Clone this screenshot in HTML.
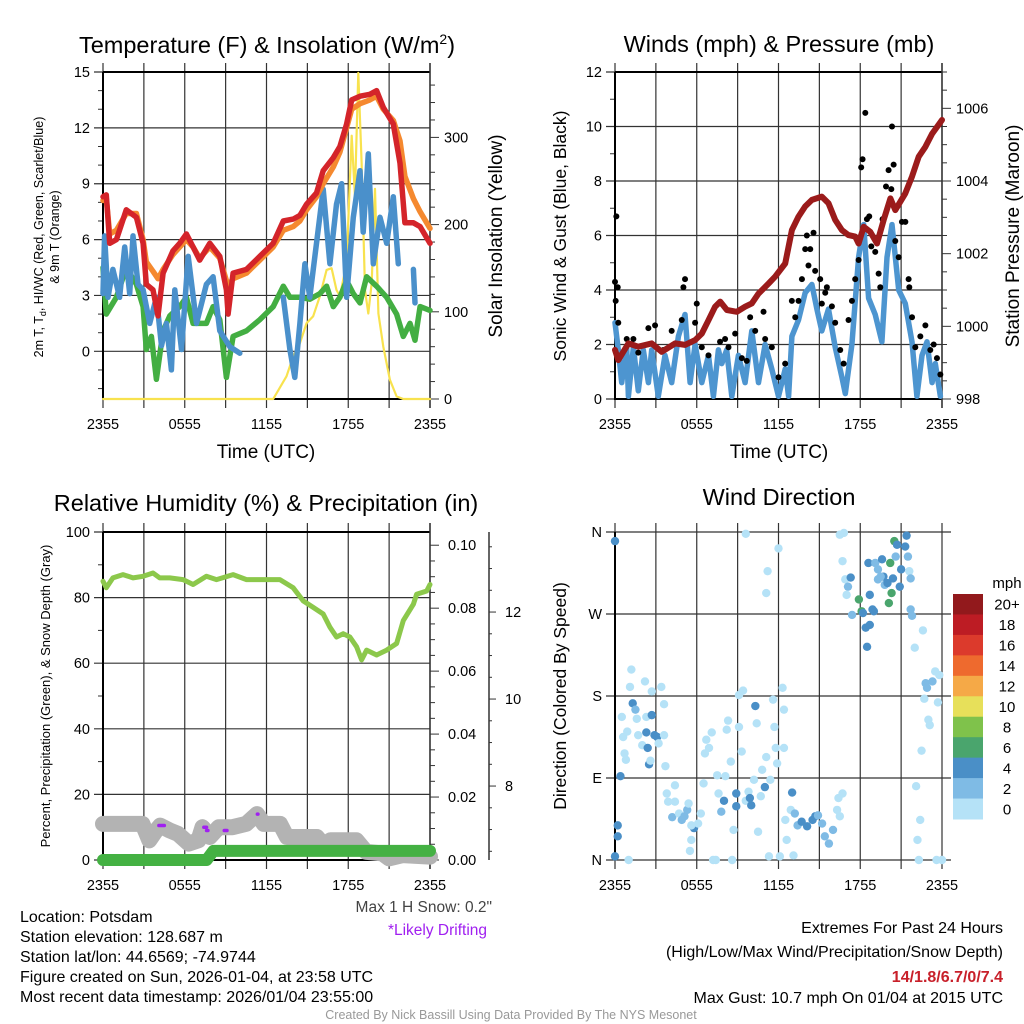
<!DOCTYPE html>
<html><head><meta charset="utf-8"><title>Mesonet Station Chart</title>
<style>
html,body{margin:0;padding:0;background:#fff;}
svg{display:block;font-family:"Liberation Sans",Arial,sans-serif;}
</style></head>
<body>
<svg id="chart" xmlns="http://www.w3.org/2000/svg" width="1024" height="1024" viewBox="0 0 1024 1024">
<rect x="0" y="0" width="1024" height="1024" fill="#fff"/>
<text x="267" y="53" font-size="23.5" text-anchor="middle">Temperature (F) &amp; Insolation (W/m<tspan font-size="14" dy="-9">2</tspan><tspan dy="9">)</tspan></text>
<text x="779" y="52" font-size="23.5" text-anchor="middle">Winds (mph) &amp; Pressure (mb)</text>
<text x="266" y="511" font-size="23.5" text-anchor="middle">Relative Humidity (%) &amp; Precipitation (in)</text>
<text x="779" y="505" font-size="23.5" text-anchor="middle">Wind Direction</text>

<text x="266" y="458" font-size="19" text-anchor="middle">Time (UTC)</text>
<text x="779" y="458" font-size="19" text-anchor="middle">Time (UTC)</text>

<text transform="translate(43,237) rotate(-90)" font-size="12.5" text-anchor="middle">2m T, T<tspan font-size="9" dy="3">d</tspan><tspan dy="-3">, HI/WC (Red, Green, Scarlet/Blue)</tspan></text>
<text transform="translate(59,237) rotate(-90)" font-size="12.5" text-anchor="middle">&amp; 9m T (Orange)</text>
<text transform="translate(502,236) rotate(-90)" font-size="19" text-anchor="middle">Solar Insolation (Yellow)</text>
<text transform="translate(566,236) rotate(-90)" font-size="17.5" text-anchor="middle">Sonic Wind &amp; Gust (Blue, Black)</text>
<text transform="translate(1019,236) rotate(-90)" font-size="19" text-anchor="middle">Station Pressure (Maroon)</text>
<text transform="translate(50,696) rotate(-90)" font-size="13" text-anchor="middle">Percent, Precipitation (Green), &amp; Snow Depth (Gray)</text>
<text transform="translate(566,696) rotate(-90)" font-size="17.5" text-anchor="middle">Direction (Colored By Speed)</text>

<g id="panels"></g>

<text x="1007" y="588" font-size="15" text-anchor="middle">mph</text>

<text x="492" y="912" font-size="15.5" fill="#444" text-anchor="end">Max 1 H Snow: 0.2"</text>
<text x="487" y="935" font-size="15.5" fill="#a020f0" text-anchor="end">*Likely Drifting</text>

<g font-size="16">
<text x="20" y="922">Location: Potsdam</text>
<text x="20" y="942">Station elevation: 128.687 m</text>
<text x="20" y="962">Station lat/lon: 44.6569; -74.9744</text>
<text x="20" y="982">Figure created on Sun, 2026-01-04, at 23:58 UTC</text>
<text x="20" y="1002">Most recent data timestamp: 2026/01/04 23:55:00</text>
</g>
<g font-size="16" text-anchor="end">
<text x="1003" y="933">Extremes For Past 24 Hours</text>
<text x="1003" y="957">(High/Low/Max Wind/Precipitation/Snow Depth)</text>
<text x="1003" y="982" fill="#c8202a" font-weight="bold">14/1.8/6.7/0/7.4</text>
<text x="1003" y="1003">Max Gust: 10.7 mph On 01/04 at 2015 UTC</text>
</g>
<text x="511" y="1019" font-size="12.5" fill="#999" text-anchor="middle">Created By Nick Bassill Using Data Provided By The NYS Mesonet</text>
</svg>

<script>
// ---------- DATA (time in hours since 2355 UTC) ----------
const xTickLabels = ["2355","0555","1155","1755","2355"];
const tempTicks = [0,3,6,9,12,15];
const solarTicks = [0,100,200,300];
const windTicks = [0,2,4,6,8,10,12];
const presTicks = [998,1000,1002,1004,1006];
const rhTicks = [0,20,40,60,80,100];
const precipTicks = ["0.00","0.02","0.04","0.06","0.08","0.10"];
const snowTicks = [8,10,12];
const dirTickLabels = ["N","E","S","W","N"];
const speedBins = ["0","2","4","6","8","10","12","14","16","18","20+"];
const speedColors = ["#b5e2f7","#7fbbe5","#4a8fc7","#4aa56d","#7fc24b","#e7e05a","#f5a947","#ee6a2e","#dc3a2c","#bd1c24","#92191c"];

const tempT = [0,0.24,0.49,0.98,1.71,2.45,2.94,3.18,3.67,4.04,4.41,5.14,5.63,6.12,6.61,7.10,7.84,8.57,9.06,9.18,9.55,10.53,11.51,12.49,13.23,13.96,14.45,14.94,15.67,16.16,16.90,17.39,17.88,18.25,18.86,19.59,20.08,20.57,21.31,21.80,22.16,22.78,23.27,24];
const tempV = [8.3,8.4,5.8,6.0,7.6,7.2,5.8,3.6,3.3,1.9,4.2,5.4,5.8,6.3,5.6,4.9,5.8,5.1,3.3,2.0,4.2,4.4,5.1,5.8,7.0,7.1,7.3,7.9,8.5,9.7,10.4,11.0,12.2,13.5,13.7,13.8,14.0,13.1,12.2,10.1,6.9,6.9,6.7,5.8];
const temp9mV = [8.1,8.2,6.3,6.5,7.4,7.4,6.0,4.8,4.3,3.9,4.4,5.2,5.6,6.0,5.6,5.0,5.6,5.0,3.8,3.5,3.9,4.2,4.9,5.6,6.5,6.7,7.0,7.6,8.3,9.0,9.9,10.7,12.0,13.0,13.3,13.5,13.7,13.0,12.4,11.3,9.4,8.2,7.5,6.6];
const dewT = [0,0.24,0.98,1.71,2.45,2.94,3.18,3.55,3.92,4.41,4.90,5.63,6.12,6.61,7.59,8.08,8.57,9.06,9.55,10.53,11.51,12.49,13.23,13.72,14.45,15.18,15.92,16.41,16.90,17.39,17.88,18.37,18.86,19.35,20.08,20.82,21.55,22.04,22.53,22.90,23.27,24];
const dewV = [4.5,2.0,2.9,4.5,3.6,2.4,0.1,0.8,-1.5,1.1,1.9,2.4,2.9,1.5,1.5,2.4,1.7,-1.4,0.8,1.1,1.7,2.4,3.5,2.9,2.9,2.8,3.1,3.5,2.4,2.9,3.8,3.1,2.6,4.0,3.5,2.9,2.0,0.8,1.5,0.6,2.4,2.2];
const chillT = [0,0.12,0.37,0.73,1.22,1.59,1.96,2.2,2.57,2.94,3.43,3.92,4.29,4.65,5.02,5.27,5.76,6.25,6.86,7.59,8.08,8.57,9.31,10.04,null,13.23,13.72,14.08,14.45,14.82,15.18,15.67,16.16,16.65,17.14,17.51,17.88,18.37,18.86,19.10,19.47,19.84,20.33,20.82,21.31,21.67,null,22.78,22.90];
const chillV = [3.1,6.2,2.9,4.4,2.9,5.6,3.1,6.2,3.6,3.3,1.5,2.9,0.3,1.5,-1.0,3.3,0.1,5.1,1.5,3.6,4.0,1.1,0.25,-0.1,null,2.9,0.1,-1.4,1.5,4.7,2.9,5.8,8.7,4.7,7.9,9.0,2.9,7.2,9.7,6.4,10.6,4.7,7.2,5.8,8.3,4.7,null,4.4,2.6];
const solarT = [0,12.49,13.47,13.96,14.45,14.94,15.43,15.92,16.41,16.78,17.14,17.39,17.88,18.25,18.49,18.74,18.98,19.23,19.47,19.72,19.96,20.21,20.57,21.06,21.55,22.04,24];
const solarV = [0,0,26,49,64,87,95,118,148,150,125,118,156,302,233,374,271,125,98,133,241,98,60,22,3,0,0];

const presT = [0,0.24,0.98,1.71,2.69,3.43,4.41,5.14,5.88,6.37,6.86,7.35,7.72,8.21,8.94,9.55,10.04,10.53,11.27,11.76,12.49,12.98,13.47,13.96,14.45,15.18,15.67,16.16,16.65,17.14,17.63,17.88,18.25,18.74,19.23,19.72,20.21,20.57,21.31,21.80,22.29,22.78,23.27,24];
const presV = [999.35,999.07,999.53,999.44,999.53,999.3,999.53,999.49,999.62,999.8,1000.17,1000.54,1000.68,1000.45,1000.4,1000.54,1000.63,1000.9,1001.18,1001.37,1001.73,1002.65,1003.02,1003.3,1003.48,1003.57,1003.39,1002.93,1002.65,1002.51,1002.47,1002.28,1002.74,1002.6,1002.28,1002.93,1003.52,1003.2,1003.66,1004.12,1004.67,1004.94,1005.3,1005.68];
const windT = [0,0.24,0.49,0.86,0.98,1.35,1.71,2.08,2.45,2.69,3.18,3.67,4.16,4.65,5.14,5.51,5.88,6.37,6.86,7.22,7.59,7.84,8.2,8.57,9.06,9.55,10.04,10.53,11.02,11.51,12.0,12.49,12.74,12.98,13.47,13.96,14.45,14.82,15.18,15.67,16.16,16.65,16.9,17.39,17.88,18.25,18.61,19.1,19.59,19.96,20.33,20.82,21.31,21.8,22.16,22.53,22.9,23.27,23.51,23.88];
const windV = [2.8,1.8,0.6,1.9,0.1,1.9,0.3,1.8,0.6,1.8,0.1,1.6,0.6,2.3,3.1,0.6,2.0,0.6,1.6,0.1,1.8,1.3,1.8,0.1,1.6,0.6,2.5,0.6,2.0,1.1,0.1,1.1,0.1,2.3,2.9,3.9,4.2,3.3,2.5,3.3,1.9,0.8,0.2,2.0,5.2,6.4,3.7,3.1,2.1,5.2,6.4,4.0,3.5,2.1,0.1,1.6,2.1,0.6,1.3,0.1];
const gustT = [0,0.1,0.2,0.05,0.24,0.86,1.35,1.71,2.45,2.94,3.55,4.16,4.90,5.02,5.14,6.0,5.88,6.37,6.86,7.71,8.08,8.33,8.82,9.31,9.67,9.92,10.29,10.9,11.02,11.51,12.0,12.49,12.98,13.23,13.47,13.96,14.08,14.33,14.57,14.2,13.72,14.69,15.06,15.18,15.43,15.55,15.92,16.16,16.53,16.78,17.14,17.39,17.63,17.88,18.07,18.17,18.37,18.49,18.66,18.81,19.1,19.35,19.47,19.64,19.89,20.08,20.28,20.33,20.45,20.57,20.82,21.06,21.31,21.55,21.6,21.8,22.04,22.41,22.78,23.14,23.39,23.63,23.88];
const gustV = [4.3,6.7,4.1,3.6,2.8,2.2,2.2,1.7,2.6,2.7,1.8,2.5,2.9,4.1,4.4,3.5,2.8,1.9,1.6,2.1,2.2,1.9,2.4,1.5,1.4,3.0,2.5,3.2,2.2,1.9,0.8,1.3,3.6,3.0,3.6,5.5,6.0,5.5,6.1,4.9,4.4,4.7,4.4,3.5,3.9,4.1,3.4,2.8,1.8,1.3,2.9,3.6,4.4,5.1,8.5,8.8,10.5,6.6,6.7,5.6,5.4,4.6,4.1,6.6,7.8,8.4,7.7,10.0,8.6,5.8,5.2,6.5,6.5,4.4,4.1,3.0,1.9,2.3,2.7,1.8,2.0,1.5,0.9];

const rhT = [0,0.24,0.73,1.47,2.2,2.94,3.67,4.16,4.9,5.88,6.61,7.59,8.33,9.55,10.53,12.0,12.98,13.96,14.69,15.43,16.16,16.65,17.14,17.63,18.12,18.61,18.98,19.35,20.08,20.82,21.55,22.04,22.78,23.02,23.76,24];
const rhV = [85,83,86,87,86,86.5,87.5,86,86,85.5,84,86.5,85.5,87,85.5,85.5,85.5,83,79,77,75,71,68,69,68,65,61,64,62.5,64,66,73,78,81,82,84];
const snowT = [0,1.5,2.9,3.4,3.9,4.2,4.9,5.5,6.3,7.0,7.3,7.84,8.5,9.5,10.5,11.3,11.8,13.0,13.5,15.7,16.2,16.7,18.6,19.3,20.5,21.0,22.0,24];
const snowV = [11,11,11,6,9,10.5,9,8,5,6,10,7,10,10,11,14,11,11,7,7,4.5,6,6,2.5,2,0.5,1.5,1];
const driftStart = [4.1,7.4,7.6,8.9,11.33];
const driftEnd = [4.5,7.6,7.7,9.1,11.37];
const driftV = [10.5,10,9,9,14];
const precipT = [0,7.6,8.1,24];
const precipV = [0,0,0.0029,0.0029];

const dirT = [0.0,0.0,0.2,0.2,0.4,1.0,0.5,0.6,0.9,0.7,0.8,1.2,1.1,1.3,1.5,1.6,1.7,2.0,2.2,2.3,2.3,2.4,2.5,2.6,2.7,2.7,2.9,3.1,3.2,3.4,3.6,3.6,3.7,3.8,3.9,4.2,4.4,4.4,4.7,4.9,5.1,5.3,5.4,5.8,5.6,5.6,5.5,6.1,6.3,6.5,6.6,6.7,6.9,7.1,7.2,7.4,7.5,7.6,7.8,8.0,8.1,8.2,8.3,8.5,8.6,8.7,8.9,8.9,9.1,9.1,9.3,9.4,9.6,9.8,9.9,10.0,10.2,10.3,10.4,10.5,10.7,10.8,11.0,11.1,11.1,11.2,11.3,11.4,11.6,11.7,11.8,11.9,9.6,12.0,12.1,12.3,12.4,12.4,12.5,12.6,12.9,13.0,13.1,13.2,13.4,13.7,14.1,14.5,14.7,14.9,15.2,15.4,15.7,16.0,16.3,16.4,16.5,16.7,16.5,16.8,16.7,16.9,17.1,17.3,17.0,17.4,17.9,18.1,18.2,18.4,18.5,18.7,18.7,19.0,18.6,19.1,19.3,19.6,19.7,19.8,20.0,20.1,20.2,20.3,20.4,20.5,20.6,20.7,20.9,21.0,21.3,21.4,21.5,21.6,21.7,21.7,21.8,22.0,22.1,22.3,22.4,22.2,22.5,22.6,22.7,22.8,22.9,23.0,23.1,23.3,23.5,23.7,23.8,23.6,24.0,18.9,19.3,19.5];
const dirV = [350,4,38,26,92,0,157,135,141,117,110,209,190,172,165,155,137,126,196,157,140,123,105,109,185,159,137,135,128,190,171,137,103,73,64,47,82,64,51,44,48,55,62,35,38,22,10,40,51,84,117,132,123,140,0,0,93,73,53,65,92,143,153,108,0,33,59,73,146,181,119,186,65,75,68,60,88,169,150,31,70,99,80,113,293,317,4,88,176,146,123,106,358,342,4,189,165,123,44,22,55,74,5,51,38,42,37,44,48,49,40,26,18,33,55,68,48,73,357,359,328,308,300,310,291,269,286,273,271,255,234,258,291,273,326,326,308,330,311,302,304,282,326,293,309,350,333,346,300,319,344,356,333,317,309,275,268,233,81,0,44,22,120,252,177,194,189,154,148,196,207,173,203,0,0,275,319,311];
const dirSpeed = [5,5,5,5,5,1,1,1,1,1,1,1,1,5,3,1,1,1,1,1,5,5,5,1,1,5,5,5,1,1,1,1,1,1,1,3,1,1,1,3,3,3,1,5,1,1,1,1,1,1,1,1,1,1,1,1,1,1,3,5,1,1,1,1,1,1,5,5,1,1,1,1,1,1,5,5,1,5,1,1,1,1,5,1,1,1,1,1,1,1,1,1,1,1,1,1,1,1,1,1,1,5,1,3,3,5,5,5,5,3,3,3,3,3,1,1,1,1,1,1,1,1,3,5,1,3,7,7,5,5,5,5,5,5,5,3,3,5,5,3,5,7,7,7,5,7,3,5,5,5,5,5,3,1,3,3,3,1,1,1,1,1,1,1,1,3,3,1,1,3,1,1,1,1,1,5,3,3];

// ---------- HELPERS ----------
const NS = "http://www.w3.org/2000/svg";
const root = document.getElementById("panels");
function mk(tag, attrs, parent) {
  const el = document.createElementNS(NS, tag);
  for (const k in attrs) el.setAttribute(k, attrs[k]);
  (parent || root).appendChild(el);
  return el;
}
function scale(d0, d1, r0, r1) { return v => r0 + (v - d0) / (d1 - d0) * (r1 - r0); }
function pathFrom(ts, vs, X, Y) {
  let d = "", pen = false;
  for (let i = 0; i < ts.length; i++) {
    if (ts[i] === null || vs[i] === null) { pen = false; continue; }
    d += (pen ? "L" : "M") + X(ts[i]).toFixed(1) + "," + Y(vs[i]).toFixed(1);
    pen = true;
  }
  return d;
}

function frame(p, name) {
  const g = mk("g", {});
  
  
  for (let h = 0; h <= 24; h += 3) {
    const x = p.X(h);
    const l = mk("line", {x1: x, x2: x, y1: p.y0 - 9, y2: p.y1 + 9, stroke: "#333", "stroke-width": 1.2}, g);
    
    
  }
  xTickLabels.forEach((lab, i) => {
    const t = mk("text", {x: p.X(i * 6), y: p.y1 + 30, "font-size": 14.5, "text-anchor": "middle"}, g);
    t.textContent = lab;
    
    
  });
  return g;
}
function hline(g, p, y, major) {
  const l = mk("line", {x1: p.x0 - (major ? 9 : 5), x2: major ? p.x1 : p.x0, y1: y, y2: y, stroke: "#333", "stroke-width": major ? 1.2 : 1}, g);
  
  
}
function leftLabel(g, p, y, txt) {
  const t = mk("text", {x: p.x0 - 13, y: y + 5, "font-size": 14.5, "text-anchor": "end"}, g);
  t.textContent = txt;
  
  
}
function rightTick(g, x, y, major, txt, off) {
  const l = mk("line", {x1: x, x2: x + (major ? 9 : 5), y1: y, y2: y, stroke: "#333", "stroke-width": 1}, g);
  
  
  if (txt !== undefined) {
    const t = mk("text", {x: x + (off || 14), y: y + 5, "font-size": 14.5}, g);
    t.textContent = txt;
    
    
  }
}
function border(g, p) {
  const r = mk("path", {d: `M${p.x0},${p.y0}H${p.x1}M${p.x0},${p.y0}V${p.y1}H${p.x1}`, fill: "none", stroke: "#000", "stroke-width": 2}, g);
  
  
  const rr = mk("line", {x1: p.x1, x2: p.x1, y1: p.y0 - 9, y2: p.y1 + 9, stroke: "#333", "stroke-width": 1.5}, g);
  
  
}
function series(d, color, w, name) {
  const s = mk("path", {d: d, fill: "none", stroke: color, "stroke-width": w, "stroke-linejoin": "round", "stroke-linecap": "round"});
  
  
  return s;
}

// ---------- PANEL A: Temperature ----------
(function () {
  const p = {x0: 103, x1: 430, y0: 72, y1: 399};
  p.X = scale(0, 24, p.x0, p.x1);
  const Y = scale(-2.56, 15, p.y1, p.y0);
  const YR = scale(0, 375, p.y1, p.y0);
  const g = frame(p, "temperature");
  for (let v = -2; v <= 15; v++) hline(g, p, Y(v), v % 3 === 0);
  tempTicks.forEach(v => leftLabel(g, p, Y(v), String(v)));
  for (let w = 0; w <= 360; w += 20) rightTick(g, p.x1, YR(w), w % 100 === 0, w % 100 === 0 ? String(w) : undefined);
  border(g, p);
  series(pathFrom(solarT, solarV, p.X, YR), "#f8e24e", 2.2, "solar-insolation-line");
  series(pathFrom(dewT, dewV, p.X, Y), "#43ae42", 5.5, "dewpoint-line");
  series(pathFrom(chillT, chillV, p.X, Y), "#4a90cb", 5.5, "wind-chill-line");
  series(pathFrom(tempT, temp9mV, p.X, Y), "#f5892f", 5.5, "temp-9m-line");
  series(pathFrom(tempT, tempV, p.X, Y), "#d4242a", 5.5, "temp-2m-line");
})();

// ---------- PANEL B: Winds & Pressure ----------
(function () {
  const p = {x0: 615, x1: 942, y0: 72, y1: 399};
  p.X = scale(0, 24, p.x0, p.x1);
  const Y = scale(0, 12, p.y1, p.y0);
  const YR = scale(998, 1007.0, p.y1, p.y0);
  const g = frame(p, "winds");
  for (let v = 0; v <= 12; v++) hline(g, p, Y(v), v % 2 === 0);
  windTicks.forEach(v => leftLabel(g, p, Y(v), String(v)));
  for (let m = 998; m <= 1007; m += 0.5) rightTick(g, p.x1, YR(m), m % 2 === 0, presTicks.includes(m) ? String(m) : undefined);
  border(g, p);
  series(pathFrom(windT, windV, p.X, Y), "#4d95d0", 5.5, "sonic-wind-line");
  const gg = mk("g", {});
  
  
  gustT.forEach((t, i) => {
    const c = mk("circle", {cx: p.X(t), cy: Y(gustV[i]), r: 3, fill: "#000"}, gg);
    
    
  });
  series(pathFrom(presT, presV, p.X, YR), "#9b1b1b", 6, "pressure-line");
})();

// ---------- PANEL C: RH & Precip ----------
(function () {
  const p = {x0: 103, x1: 430, y0: 532, y1: 860};
  p.X = scale(0, 24, p.x0, p.x1);
  const Y = scale(0, 100, p.y1, p.y0);
  const YP = scale(0, 0.1042, p.y1, p.y0);
  const YS = scale(6.3, 13.84, p.y1, p.y0);
  const g = frame(p, "humidity");
  for (let v = 0; v <= 100; v += 10) hline(g, p, Y(v), v % 20 === 0);
  rhTicks.forEach(v => leftLabel(g, p, Y(v), String(v)));
  for (let k = 0; k <= 20; k++) {
    const v = k * 0.005;
    rightTick(g, p.x1, YP(v), k % 4 === 0, k % 4 === 0 ? precipTicks[k / 4] : undefined, 18);
  }
  border(g, p);
  const ax = mk("line", {x1: 489, x2: 489, y1: p.y0, y2: p.y1, stroke: "#333", "stroke-width": 1.5}, g);
  
  
  for (let s = 6.5; s <= 13.5; s += 0.5) {
    const major = snowTicks.includes(s);
    const l = mk("line", {x1: 489, x2: major ? 496 : 492, y1: YS(s), y2: YS(s), stroke: "#333", "stroke-width": 1}, g);
    
    
    if (major) {
      const t = mk("text", {x: 505, y: YS(s) + 5, "font-size": 14.5}, g);
      t.textContent = String(s);
      
      
    }
  }
  series(pathFrom(snowT, snowV, p.X, Y), "#b3b3b3", 16, "snow-depth-line");
  driftStart.forEach((t, i) => {
    series(`M${p.X(t)},${Y(driftV[i])}L${p.X(driftEnd[i])},${Y(driftV[i])}`, "#a020f0", 3.5, "drifting-marker");
  });
  series(pathFrom(precipT, precipV, p.X, YP), "#44b143", 12, "precipitation-line");
  series(pathFrom(rhT, rhV, p.X, Y), "#8cc84b", 5, "relative-humidity-line");
})();

// ---------- PANEL D: Wind Direction ----------
(function () {
  const p = {x0: 615, x1: 942, y0: 532, y1: 860};
  p.X = scale(0, 24, p.x0, p.x1);
  const Y = scale(0, 360, p.y1, p.y0);
  const g = frame(p, "wind-direction");
  dirTickLabels.forEach((lab, i) => {
    const y = Y(i * 90);
    const l = mk("line", {x1: p.x0 - 9, x2: p.x1 + 9, y1: y, y2: y, stroke: "#333", "stroke-width": 1.2}, g);
    
    
    leftLabel(g, p, y, lab);
  });
  const b = mk("line", {x1: p.x0, x2: p.x0, y1: p.y0, y2: p.y1, stroke: "#000", "stroke-width": 2}, g);
  
  
  const pg = mk("g", {});
  
  
  dirT.forEach((t, i) => {
    const bin = Math.min(10, Math.floor(dirSpeed[i] / 2));
    const c = mk("circle", {cx: p.X(t), cy: Y(dirV[i]), r: 4.2, fill: speedColors[bin]}, pg);
    
    
  });
  const cb = mk("g", {});
  
  
  const top = 594, h = (819 - 594) / speedBins.length;
  for (let k = 0; k < speedBins.length; k++) {
    const idx = speedBins.length - 1 - k;
    const r = mk("rect", {x: 953, y: top + k * h, width: 30, height: h + 0.5, fill: speedColors[idx]}, cb);
    
    
    const t = mk("text", {x: 1007, y: top + k * h + h / 2 + 5.5, "font-size": 15, "text-anchor": "middle"}, cb);
    t.textContent = speedBins[idx];
    
    
  }
})();
</script>
</body></html>
